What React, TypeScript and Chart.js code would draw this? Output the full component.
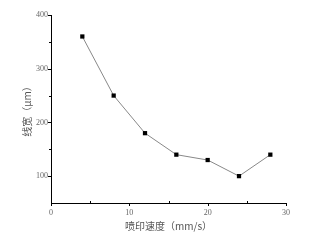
import React, { useEffect, useRef } from "react";
import { Chart, registerables } from "chart.js";

Chart.register(...registerables);

const speeds = [4, 8, 12, 16, 20, 24, 28];
const widths = [360, 250, 180, 140, 130, 100, 140];
const xMajorTicks = [0, 10, 20, 30];
const xMinorTicks = [5, 15, 25];
const yMajorTicks = [100, 200, 300, 400];
const yMinorTicks = [150, 250, 350];
const xTitle = "喷印速度（mm/s）";
const yTitle = "线宽（μm）";

const tickPlugin = {
  id: "customTicks",
  afterDraw(chart: any) {
    const ctx = chart.ctx;
    const x = chart.scales.x;
    const y = chart.scales.y;
    const area = chart.chartArea;
    ctx.save();
    ctx.strokeStyle = "#000";
    ctx.lineWidth = 1;
    ctx.beginPath();
    xMajorTicks.forEach((v) => {
      const px = Math.round(x.getPixelForValue(v)) + 0.5;
      ctx.moveTo(px, area.bottom);
      ctx.lineTo(px, area.bottom + 3);
    });
    xMinorTicks.forEach((v) => {
      const px = Math.round(x.getPixelForValue(v)) + 0.5;
      ctx.moveTo(px, area.bottom);
      ctx.lineTo(px, area.bottom - 2);
    });
    yMajorTicks.forEach((v) => {
      const py = Math.round(y.getPixelForValue(v)) + 0.5;
      ctx.moveTo(area.left, py);
      ctx.lineTo(area.left - 3, py);
    });
    yMinorTicks.forEach((v) => {
      const py = Math.round(y.getPixelForValue(v)) + 0.5;
      ctx.moveTo(area.left, py);
      ctx.lineTo(area.left - 2, py);
    });
    ctx.stroke();
    ctx.restore();
  },
};

export default function App() {
  const ref = useRef<HTMLCanvasElement>(null);
  useEffect(() => {
    document.body.style.margin = "0";
    const chart = new Chart(ref.current!, {
      type: "line",
      data: {
        datasets: [
          {
            data: speeds.map((s, i) => ({ x: s, y: widths[i] })),
            borderColor: "#888",
            borderWidth: 1,
            pointStyle: "rect",
            pointRadius: 3,
            pointBackgroundColor: "#000",
            pointBorderColor: "#000",
            pointBorderWidth: 0,
            tension: 0,
          },
        ],
      },
      options: {
        responsive: false,
        animation: false,
        layout: { padding: { left: 0, right: 25, top: 15, bottom: 0 } },
        plugins: { legend: { display: false }, tooltip: { enabled: false } },
        scales: {
          x: {
            type: "linear",
            min: 0,
            max: 30,
            afterFit: (s: any) => {
              s.height = 40;
            },
            afterBuildTicks: (s: any) => {
              s.ticks = xMajorTicks.map((v) => ({ value: v }));
            },
            ticks: {
              padding: 5,
              color: "#666",
              font: { family: "Liberation Serif", size: 8 },
              maxRotation: 0,
            },
            grid: { drawOnChartArea: false, drawTicks: false },
            border: { color: "#000", width: 1 },
            title: {
              display: true,
              text: xTitle,
              color: "#555",
              font: { family: "Noto Sans CJK SC", size: 10 },
              padding: { top: 0, bottom: 11 },
            },
          },
          y: {
            type: "linear",
            min: 50,
            max: 400,
            afterFit: (s: any) => {
              s.width = 51;
            },
            afterBuildTicks: (s: any) => {
              s.ticks = yMajorTicks.map((v) => ({ value: v }));
            },
            ticks: {
              padding: 3,
              color: "#666",
              font: { family: "Liberation Serif", size: 8 },
            },
            grid: { drawOnChartArea: false, drawTicks: false },
            border: { color: "#000", width: 1 },
            title: {
              display: true,
              text: yTitle,
              color: "#555",
              font: { family: "Noto Sans CJK SC", size: 10 },
              padding: { top: 21, bottom: 0 },
            },
          },
        },
      },
      plugins: [tickPlugin],
    });
    return () => chart.destroy();
  }, []);
  return (
    <div style={{ width: 311, height: 243 }}>
      <canvas ref={ref} width={311} height={243} />
    </div>
  );
}
